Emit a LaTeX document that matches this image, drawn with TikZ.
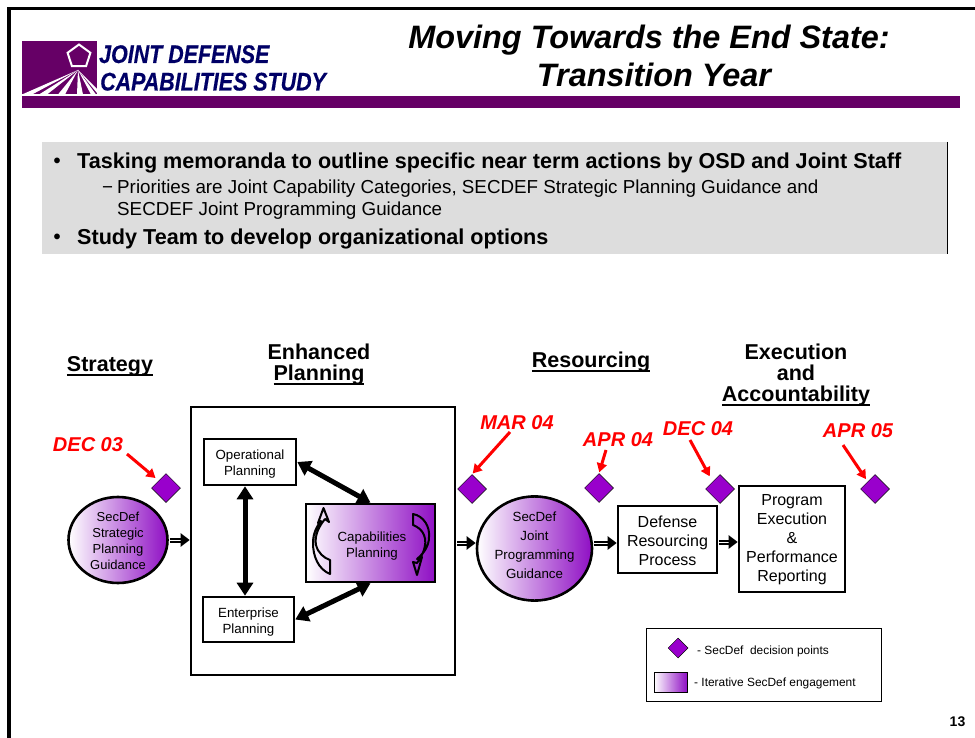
\documentclass[tikz,border=0pt]{standalone}
\usepackage{fontspec}
\setmainfont{Liberation Sans}
\newfontfamily\logofont[UprightFont=*/BI,UprightFeatures={FakeBold=0.4}]{Liberation Sans}
\usetikzlibrary{arrows.meta,calc,shapes.geometric}
\definecolor{logoP}{HTML}{660066}
\definecolor{deep}{HTML}{8F0FC4}
\definecolor{midp}{HTML}{DDBDEE}
\definecolor{dia}{HTML}{9900CC}
\definecolor{navy}{HTML}{000066}
\definecolor{panel}{HTML}{DDDDDD}
\newcommand{\fs}[2]{\fontsize{#1}{#2}\selectfont}
\newcommand{\topgap}[1]{\rule{0pt}{#1pt}}
\newcommand{\botgap}[1]{\rule[-#1pt]{0pt}{0pt}}
\newcommand{\ulx}[1]{\setbox0\hbox{#1}\rlap{\rule[-4.5pt]{\wd0}{1.9pt}}\box0}
\tikzset{
  box/.style={draw=black,line width=2.6pt,fill=white,inner sep=0pt,align=center,font=\fs{16}{19}},
  smallbox/.style={box,font=\fs{13.3}{16}},
  grad/.style={left color=white,middle color=midp,right color=deep},
  oval/.style={ellipse,draw=black,line width=2.6pt,inner sep=0pt,align=center,left color=white,middle color=midp,right color=deep},
  deci/.style={diamond,draw=black,line width=0.5pt,fill=dia,minimum width=29pt,minimum height=29pt,inner sep=0pt},
  datelab/.style={text=red,font=\fs{20}{24}\bfseries\itshape,inner sep=0pt},
  redarrow/.style={draw=red,line width=3pt,-{Triangle[length=9pt,width=10pt]}},
  bigarrow/.style={draw=black,line width=5pt,{Triangle[length=13pt,width=16pt]}-{Triangle[length=13pt,width=16pt]}},
  flow/.style={draw=black,line width=2.2pt,double=white,double distance=0.6pt,shorten <=1pt,-{Triangle[length=9pt,width=13pt,fill=black]}},
  head/.style={font=\fs{21.5}{21}\bfseries,align=center,inner sep=0pt},
  swirl/.style={draw=black,line width=2pt,line join=round},
  txt/.style={inner sep=0pt,anchor=base west},
  titletxt/.style={inner sep=0pt,font=\fs{32.4}{39}\bfseries\itshape,anchor=base},
  logotxt/.style={inner sep=0pt,anchor=base west,text=navy,font=\fs{25.5}{25.5}\logofont}
}
\begin{document}
\begin{tikzpicture}[x=1pt,y=-1pt]
\useasboundingbox (0,0) rectangle (975,738);
\fill[white] (0,0) rectangle (975,738);
% frame
\fill[black] (7,7) rectangle (975,10.5);
\fill[black] (7,7) rectangle (10.5,738);
% logo
\fill[logoP] (22,41) rectangle (97,94.5);
\fill[logoP] (22,96) rectangle (960,108);
\foreach \a/\b in {22/32,39/47,58/65,77/83,91/96}{\fill[white] (78,70) -- (\a,94.5) -- (\b,94.5) -- cycle;}
\fill[white] (78,70) -- (97,89) -- (97,93) -- cycle;
\node[regular polygon,regular polygon sides=5,draw=white,line width=2pt,minimum size=24pt,inner sep=0pt] (penta) at (79,56.5) {};
\node[logotxt] (lt1) at (99,63) {\scalebox{0.84}[1]{JOINT DEFENSE}};
\node[logotxt] (lt2) at (100,90.5) {\scalebox{0.84}[1]{CAPABILITIES STUDY}};
\node[titletxt] (t1) at (649,48.5) {Moving Towards the End State:};
\node[titletxt] (t2) at (654,87) {Transition Year};
% panel
\fill[panel] (42,142) rectangle (947,254);
\draw[black,line width=0.7pt] (947,142) -- (947,254);
\node[txt,font=\fs{20}{25}\bfseries] (b1d) at (53.5,168) {•};
\node[txt,font=\fs{21.6}{25}\bfseries] (b1) at (77,169) {Tasking memoranda to outline specific near term actions by OSD and Joint Staff};
\node[txt,font=\fs{18.8}{22}] (b2d) at (102,194) {−};
\node[txt,font=\fs{18.8}{22}] (b2) at (117,194) {Priorities are Joint Capability Categories, SECDEF Strategic Planning Guidance and};
\node[txt,font=\fs{18.8}{22}] (b3) at (117,216) {SECDEF Joint Programming Guidance};
\node[txt,font=\fs{20}{25}\bfseries] (b4d) at (53.5,244) {•};
\node[txt,font=\fs{21.6}{25}\bfseries] (b4) at (77,245) {Study Team to develop organizational options};
% headers
\node[head] (h1) at (110,366) {\ulx{Strategy}};
\node[head] (h2) at (319,364.5) {Enhanced\\\ulx{Planning}};
\node[head] (h3) at (591,362) {\ulx{Resourcing}};
\node[head] (h4) at (796,375) {Execution\\and\\\ulx{Accountability}};
% planning
\node[box,minimum width=264pt,minimum height=268pt] (plan) at (323,541) {};
\node[smallbox,minimum width=92pt,minimum height=46pt] (op) at (250,462) {\topgap{14}Operational\\Planning};
\node[smallbox,minimum width=91pt,minimum height=45pt] (ent) at (248.5,619.5) {\topgap{15}Enterprise\\Planning};
\node[smallbox,grad,minimum width=129pt,minimum height=78pt] (caps) at (370.5,543) {\topgap{16}\hspace*{3pt}Capabilities\\\hspace*{3pt}Planning};
\draw[swirl] (330,574) .. controls (318,569) and (313,556) .. (313,543) .. controls (313,533) and (317,526) .. (321,521) -- (318,523) -- (323.5,508) -- (329,522) -- (325,519) .. controls (320,525) and (314,535) .. (316,545) .. controls (318,553) and (324,558) .. (330,560) -- cycle;
\draw[swirl] (413,514) .. controls (424,516) and (430,527) .. (429,537) .. controls (429,546) and (424,553) .. (417,559) -- (422,557) -- (417,575) -- (413,562) -- (417,563) .. controls (422,556) and (428,545) .. (424,535) .. controls (422,530) and (418,527) .. (413,525) -- cycle;
\draw[bigarrow] (op.east) -- (caps.north);
\draw[bigarrow] (ent.east) -- (caps.south);
\draw[bigarrow] ($(op.south)+(-5,0)$) -- ($(ent.north)+(-3.5,0)$);
% flow
\node[oval,minimum width=99pt,minimum height=86pt,font=\fs{13}{16.2}] (sg) at (118,540) {\topgap{11.5}SecDef\\Strategic\\Planning\\Guidance};
\node[oval,minimum width=115pt,minimum height=93pt,font=\fs{13.3}{19}] (jp) at (534.5,548.5) {SecDef\\Joint\\Programming\\Guidance\botgap{7}};
\node[box,minimum width=99pt,minimum height=67pt] (drp) at (667.5,539.5) {\topgap{14.5}Defense\\Resourcing\\Process};
\node[box,minimum width=106pt,minimum height=106pt] (pe) at (792,539) {\topgap{13}Program\\Execution\\\&\\Performance\\Reporting};
\draw[flow] (sg.east) -- (plan.west |- sg.east);
\draw[flow] (plan.east |- 0,543) -- (jp.west |- 0,543);
\draw[flow] (jp.east |- 0,543) -- (drp.west |- 0,543);
\draw[flow] (drp.east |- 0,542) -- (pe.west |- 0,542);
% decisions
\node[deci] (d1) at (166,488) {};
\node[deci] (d2) at (472,489) {};
\node[deci] (d3) at (599,488) {};
\node[deci] (d4) at (720,489) {};
\node[deci] (d5) at (875,489) {};
\node[datelab] (l1) at (88,445) {DEC 03};
\node[datelab] (l2) at (517,423) {MAR 04};
\node[datelab] (l3) at (618,440) {APR 04};
\node[datelab] (l4) at (698,429) {DEC 04};
\node[datelab] (l5) at (858,431) {APR 05};
\draw[redarrow,shorten >=4pt] (127,454) -- (d1.north west);
\draw[redarrow,shorten >=1pt] (510,432) -- (d2.north);
\draw[redarrow,shorten >=1pt] (606,450) -- (d3.north);
\draw[redarrow,shorten >=6pt] (690,440) -- (d4.north west);
\draw[redarrow,shorten >=3pt] (843,445) -- (d5.north west);
% legend
\node[draw=black,line width=0.8pt,minimum width=235pt,minimum height=73pt,inner sep=0pt] (leg) at (763.5,664.5) {};
\node[diamond,draw=black,line width=0.5pt,fill=dia,minimum width=20pt,minimum height=20pt,inner sep=0pt] (ld) at (678,648) {};
\node[draw=black,line width=0.8pt,left color=white,right color=deep,minimum width=33pt,minimum height=20pt,inner sep=0pt] (ls) at (670.5,682) {};
\node[txt,font=\fs{11.9}{14}] (lt) at (697,654) {- SecDef\ \ decision points};
\node[txt,font=\fs{11.9}{14}] (lu) at (694,686) {- Iterative SecDef engagement};
\node[inner sep=0pt,font=\fs{14}{16}\bfseries] (pg) at (957.5,722) {13};
\end{tikzpicture}
\end{document}
